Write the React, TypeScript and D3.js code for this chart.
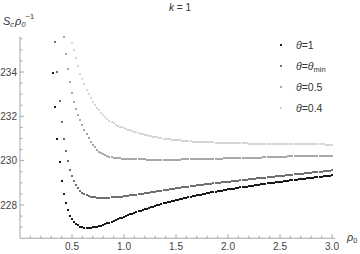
import React from "react";
import * as d3 from "d3";

const xStep = 0.02;
const xTickLabels = ["0.5", "1.0", "1.5", "2.0", "2.5", "3.0"];
const yTickLabels = ["228", "230", "232", "234"];

// θ = 1 (starts at ρ0 = 0.32)
const theta1Start = 0.32;
const theta1 = [
  233.95, 232.40, 231.00, 229.95, 229.10, 228.50, 228.08, 227.76, 227.52, 227.36,
  227.24, 227.15, 227.08, 227.03, 227.00, 226.98, 226.97, 226.97, 226.98, 226.99,
  227.00, 227.02, 227.05, 227.07, 227.10, 227.14, 227.17, 227.21, 227.24, 227.28,
  227.32, 227.36, 227.40, 227.43, 227.47, 227.51, 227.54, 227.58, 227.61, 227.65,
  227.68, 227.71, 227.75, 227.78, 227.81, 227.84, 227.87, 227.90, 227.93, 227.96,
  227.99, 228.01, 228.04, 228.07, 228.09, 228.12, 228.15, 228.17, 228.19, 228.22,
  228.24, 228.26, 228.29, 228.31, 228.33, 228.35, 228.37, 228.39, 228.41, 228.43,
  228.45, 228.47, 228.49, 228.51, 228.53, 228.55, 228.57, 228.58, 228.60, 228.62,
  228.63, 228.65, 228.67, 228.68, 228.70, 228.71, 228.73, 228.74, 228.76, 228.77,
  228.79, 228.80, 228.82, 228.83, 228.85, 228.86, 228.87, 228.89, 228.90, 228.92,
  228.93, 228.94, 228.96, 228.97, 228.98, 229.00, 229.01, 229.02, 229.04, 229.05,
  229.06, 229.07, 229.09, 229.10, 229.11, 229.12, 229.14, 229.15, 229.16, 229.17,
  229.18, 229.19, 229.21, 229.22, 229.23, 229.24, 229.25, 229.26, 229.27, 229.28,
  229.30, 229.31, 229.32, 229.33, 229.34,
];

// θ = θmin (starts at ρ0 = 0.34)
const thetaMinStart = 0.34;
const thetaMin = [
  235.35, 234.00, 232.70, 231.75, 231.00, 230.45, 229.98, 229.60, 229.30, 229.08,
  228.90, 228.76, 228.65, 228.56, 228.49, 228.44, 228.40, 228.37, 228.35, 228.34,
  228.33, 228.33, 228.32, 228.32, 228.32, 228.33, 228.33, 228.34, 228.34, 228.35,
  228.36, 228.37, 228.38, 228.39, 228.40, 228.42, 228.43, 228.44, 228.46, 228.47,
  228.48, 228.50, 228.51, 228.53, 228.54, 228.56, 228.57, 228.59, 228.60, 228.62,
  228.63, 228.65, 228.66, 228.68, 228.69, 228.71, 228.72, 228.73, 228.75, 228.76,
  228.77, 228.79, 228.80, 228.81, 228.83, 228.84, 228.85, 228.87, 228.88, 228.89,
  228.90, 228.91, 228.93, 228.94, 228.95, 228.96, 228.97, 228.99, 229.00, 229.01,
  229.02, 229.03, 229.04, 229.05, 229.06, 229.07, 229.08, 229.09, 229.10, 229.12,
  229.13, 229.14, 229.15, 229.16, 229.17, 229.18, 229.19, 229.20, 229.21, 229.22,
  229.23, 229.24, 229.25, 229.26, 229.27, 229.28, 229.29, 229.30, 229.31, 229.32,
  229.33, 229.34, 229.35, 229.36, 229.37, 229.38, 229.39, 229.40, 229.41, 229.42,
  229.43, 229.44, 229.45, 229.46, 229.47, 229.48, 229.49, 229.50, 229.51, 229.52,
  229.53, 229.54, 229.55, 229.56,
];

// θ = 0.5 (starts at ρ0 = 0.42)
const theta05Start = 0.42;
const theta05 = [
  235.56, 234.80, 234.12, 233.55, 233.06, 232.66, 232.34, 232.06, 231.82, 231.61,
  231.40, 231.20, 231.02, 230.86, 230.72, 230.60, 230.49, 230.40, 230.33, 230.28,
  230.24, 230.21, 230.18, 230.16, 230.14, 230.12, 230.11, 230.10, 230.09, 230.09,
  230.08, 230.08, 230.07, 230.07, 230.07, 230.06, 230.06, 230.06, 230.06, 230.06,
  230.05, 230.05, 230.05, 230.05, 230.05, 230.05, 230.05, 230.05, 230.05, 230.05,
  230.05, 230.05, 230.05, 230.05, 230.05, 230.05, 230.05, 230.06, 230.06, 230.06,
  230.06, 230.06, 230.06, 230.06, 230.07, 230.07, 230.07, 230.07, 230.07, 230.08,
  230.08, 230.08, 230.08, 230.09, 230.09, 230.09, 230.09, 230.10, 230.10, 230.10,
  230.10, 230.11, 230.11, 230.11, 230.11, 230.12, 230.12, 230.12, 230.12, 230.13,
  230.13, 230.13, 230.13, 230.14, 230.14, 230.14, 230.15, 230.15, 230.15, 230.16,
  230.16, 230.16, 230.17, 230.17, 230.17, 230.18, 230.18, 230.18, 230.19, 230.19,
  230.19, 230.19, 230.20, 230.20, 230.20, 230.20, 230.21, 230.21, 230.21, 230.21,
  230.21, 230.22, 230.22, 230.22, 230.22, 230.22, 230.23, 230.23, 230.23, 230.23,
];

// θ = 0.4 (starts at ρ0 = 0.50)
const theta04Start = 0.5;
const theta04 = [
  235.32, 235.00, 234.62, 234.25, 233.93, 233.68, 233.44, 233.21, 233.01, 232.82,
  232.65, 232.51, 232.38, 232.27, 232.16, 232.06, 231.97, 231.89, 231.81, 231.74,
  231.68, 231.63, 231.58, 231.54, 231.50, 231.46, 231.43, 231.40, 231.37, 231.34,
  231.31, 231.28, 231.25, 231.22, 231.20, 231.17, 231.15, 231.13, 231.11, 231.09,
  231.07, 231.05, 231.03, 231.02, 231.00, 230.99, 230.97, 230.96, 230.95, 230.94,
  230.93, 230.92, 230.91, 230.90, 230.89, 230.88, 230.88, 230.87, 230.86, 230.86,
  230.85, 230.85, 230.84, 230.84, 230.83, 230.83, 230.82, 230.82, 230.82, 230.81,
  230.81, 230.81, 230.80, 230.80, 230.80, 230.80, 230.79, 230.79, 230.79, 230.79,
  230.78, 230.78, 230.78, 230.78, 230.78, 230.77, 230.77, 230.77, 230.77, 230.77,
  230.76, 230.76, 230.76, 230.76, 230.76, 230.76, 230.75, 230.75, 230.75, 230.75,
  230.75, 230.75, 230.75, 230.74, 230.74, 230.74, 230.74, 230.74, 230.74, 230.74,
  230.74, 230.73, 230.73, 230.73, 230.73, 230.73, 230.73, 230.73, 230.73, 230.73,
  230.73, 230.73, 230.72, 230.72, 230.72, 230.72,
];

const series = [
  { key: "t1", start: theta1Start, values: theta1, color: "#1a1a1a", label: "1" },
  { key: "tmin", start: thetaMinStart, values: thetaMin, color: "#707070", label: "min" },
  { key: "t05", start: theta05Start, values: theta05, color: "#a8a8a8", label: "0.5" },
  { key: "t04", start: theta04Start, values: theta04, color: "#d6d6d6", label: "0.4" },
];

const W = 360;
const H = 254;

export default function App() {
  const x = d3.scaleLinear().domain([0, 3]).range([20, 332]);
  const y = d3.scaleLinear().domain([228, 234]).range([205, 72]);
  const axisY = y(226.5);
  const axisTop = y(235.6);
  const axisRight = x(3.03);
  const font = "'Liberation Sans', Arial, sans-serif";
  const axisColor = "#a6a6a6";
  const labelColor = "#444";

  const xMinor = d3.range(1, 31).map((i) => i / 10);
  const xMajor = [0.5, 1, 1.5, 2, 2.5, 3];
  const yMinor = d3.range(227, 235.51, 0.5);
  const yMajor = [228, 230, 232, 234];

  return (
    <svg width={W} height={H} style={{ position: "absolute", left: 0, top: 0, background: "#fff" }}>
      <defs>
        <clipPath id="plotclip">
          <rect x={x(0)} y={axisTop - 1} width={axisRight - x(0)} height={axisY - axisTop + 1} />
        </clipPath>
      </defs>
      {/* title */}
      <text x={180} y={11} textAnchor="middle" fontFamily={font} fontSize={10} fill="#333">
        <tspan fontStyle="italic">k</tspan> = 1
      </text>
      {/* y-axis label */}
      <text x={3} y={25} fontFamily={font} fontSize={11} fill="#333" fontStyle="italic">
        S<tspan fontSize={7.5} dy={2}>c</tspan>
        <tspan dy={-2} dx={1}>ρ</tspan>
        <tspan fontSize={7.5} dy={2}>0</tspan>
        <tspan fontSize={7.5} dy={-8} fontStyle="normal">−1</tspan>
      </text>
      {/* axes */}
      <line x1={x(0)} x2={axisRight} y1={axisY} y2={axisY} stroke={axisColor} strokeWidth={1} />
      <line x1={x(0)} x2={x(0)} y1={axisY} y2={axisTop} stroke={axisColor} strokeWidth={1} />
      {xMinor.map((v) => {
        const major = xMajor.some((m) => Math.abs(m - v) < 1e-6);
        return (
          <line key={"xt" + v} x1={x(v)} x2={x(v)} y1={axisY} y2={axisY - (major ? 4 : 2.5)} stroke={axisColor} strokeWidth={1} />
        );
      })}
      {xMajor.map((v, i) => (
        <text key={"xl" + v} x={x(v)} y={250} textAnchor="middle" fontFamily={font} fontSize={10} fill={labelColor}>
          {xTickLabels[i]}
        </text>
      ))}
      {yMinor.map((v) => {
        const major = yMajor.some((m) => Math.abs(m - v) < 1e-6);
        return (
          <line key={"yt" + v} x1={x(0)} x2={x(0) + (major ? 4 : 2.5)} y1={y(v)} y2={y(v)} stroke={axisColor} strokeWidth={1} />
        );
      })}
      {yMajor.map((v, i) => (
        <text key={"yl" + v} x={17} y={y(v) + 3.5} textAnchor="end" fontFamily={font} fontSize={10} fill={labelColor}>
          {yTickLabels[i]}
        </text>
      ))}
      {/* x-axis label */}
      <text x={347} y={241} fontFamily={font} fontSize={11} fill="#333" fontStyle="italic">
        ρ<tspan fontSize={7.5} dy={2} fontStyle="normal">0</tspan>
      </text>
      {/* points */}
      <g clipPath="url(#plotclip)">
        {series
          .slice()
          .reverse()
          .map((s) => (
            <g key={s.key} fill={s.color}>
              {s.values.map((v, i) => {
                const px = Math.round(x(s.start + i * xStep));
                const py = Math.round(y(v));
                return <rect key={i} x={px - 1} y={py - 1} width={2} height={2} />;
              })}
            </g>
          ))}
      </g>
      {/* legend */}
      {series.map((s, i) => {
        const ly = Math.round(44.5 + i * 21.3);
        return (
          <g key={"lg" + s.key}>
            <rect x={280} y={ly - 1} width={2} height={2} fill={s.color} />
            <text x={296} y={ly + 3.5} fontFamily={font} fontSize={10.5} fill="#333">
              <tspan fontStyle="italic">θ</tspan>
              <tspan>=</tspan>
              {s.label === "min" ? (
                <>
                  <tspan fontStyle="italic">θ</tspan>
                  <tspan fontSize={7.5} dy={2.5}>min</tspan>
                </>
              ) : (
                <tspan>{s.label}</tspan>
              )}
            </text>
          </g>
        );
      })}
    </svg>
  );
}
